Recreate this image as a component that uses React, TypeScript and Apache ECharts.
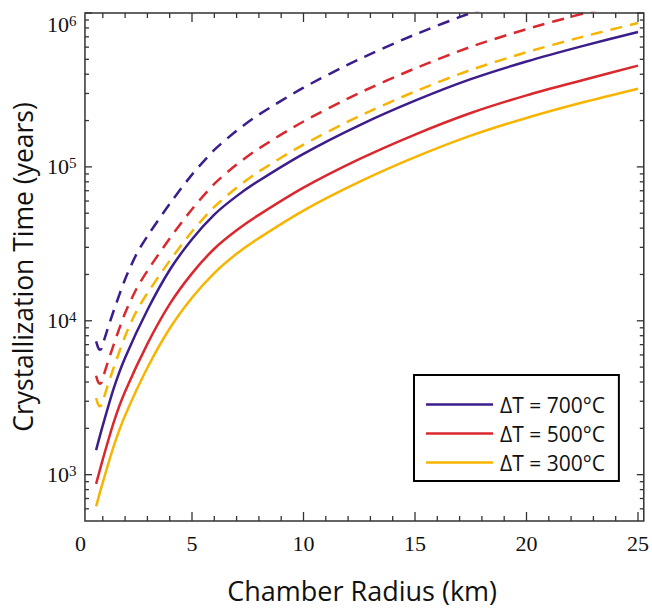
import React, { useEffect, useRef } from 'react';
import * as echarts from 'echarts';

// Chamber radius (km) vs crystallization time (years)
const dT700Solid: [number, number][] = [
  [0.7, 1445], [1.0, 2089], [1.5, 3673], [2.0, 5754], [3.0, 11750], [4.0, 21380],
  [5.0, 33880], [6.0, 48980], [7.0, 64570], [8.0, 81280], [10, 121600], [12.5, 186200],
  [15, 269200], [17.5, 371500], [20, 484200], [22.5, 609500], [25, 753400],
];
const dT500Solid: [number, number][] = [
  [0.7, 871], [1.0, 1259], [1.5, 2213], [2.0, 3467], [3.0, 7080], [4.0, 12820],
  [5.0, 20320], [6.0, 29380], [7.0, 38730], [8.0, 48750], [10, 73280], [12.5, 112200],
  [15, 162200], [17.5, 223900], [20, 291700], [22.5, 365600], [25, 455000],
];
const dT300Solid: [number, number][] = [
  [0.7, 622], [1.0, 891], [1.5, 1549], [2.0, 2427], [3.0, 4955], [4.0, 8913],
  [5.0, 14130], [6.0, 20420], [7.0, 27230], [8.0, 34430], [10, 52000], [12.5, 79800],
  [15, 115600], [17.5, 159600], [20, 208000], [22.5, 261800], [25, 322100],
];
const dT700Dashed: [number, number][] = [
  [0.7, 7345], [0.78, 6761], [0.85, 6486], [0.95, 6607], [1.05, 7413], [1.2, 8710],
  [1.5, 11750], [2.0, 18620], [2.5, 26920], [3.0, 35480], [4.0, 57540], [5.0, 89130],
  [6.0, 128800], [7.0, 171800], [8.0, 218800], [10, 327300], [12.5, 501200],
  [15, 724400], [17.5, 1000000], [20, 1303000], [22.5, 1641000], [25, 2028000],
];
const dT500Dashed: [number, number][] = [
  [0.7, 4395], [0.78, 4027], [0.85, 3899], [0.95, 3981], [1.05, 4467], [1.2, 5248],
  [1.5, 7080], [2.0, 11220], [2.5, 16030], [3.0, 21130], [4.0, 34280], [5.0, 53090],
  [6.0, 77620], [7.0, 103500], [8.0, 131800], [10, 197200], [12.5, 302000],
  [15, 436500], [17.5, 602600], [20, 785200], [22.5, 988600], [25, 1222000],
];
const dT300Dashed: [number, number][] = [
  [0.7, 3148], [0.78, 2884], [0.85, 2780], [0.95, 2851], [1.05, 3162], [1.2, 3715],
  [1.5, 5012], [2.0, 7943], [2.5, 11480], [3.0, 15140], [4.0, 24550], [5.0, 38020],
  [6.0, 54950], [7.0, 73280], [8.0, 93330], [10, 139600], [12.5, 213800],
  [15, 309000], [17.5, 426600], [20, 555900], [22.5, 699800], [25, 861000],
];

const legendNames = ['ΔT = 700°C', 'ΔT = 500°C', 'ΔT = 300°C'];
const colors = ['#3b1d8c', '#d9282e', '#f7b400'];

const xMin = 0;
const xMax = 25.26;
const xFrameLeft = 0.2;
const yMin = 500;
const yMax = 1000000;
const xMajor = [5, 10, 15, 20, 25];
const xMinor = [1, 2, 3, 4, 6, 7, 8, 9, 11, 12, 13, 14, 16, 17, 18, 19, 21, 22, 23, 24];
const yMajor = [1000, 10000, 100000, 1000000];
const yMinorMult = [2, 3, 4, 5, 6, 7, 8, 9];
const yDecades = [100, 1000, 10000, 100000];

const SANS = 'Open Sans';
const SERIF = 'Liberation Serif';

export default function App() {
  const ref = useRef<HTMLDivElement>(null);
  useEffect(() => {
    if (!ref.current) return;
    const chart = echarts.init(ref.current, undefined, { renderer: 'svg' });

    const tickData: number[][] = [];
    xMajor.forEach((v) => { tickData.push([v, yMin, 0, -9]); tickData.push([v, yMax, 0, 9]); });
    xMinor.forEach((v) => { tickData.push([v, yMin, 0, -5]); tickData.push([v, yMax, 0, 5]); });
    yMajor.forEach((v) => { tickData.push([xFrameLeft, v, 7, 0]); tickData.push([xMax, v, -7, 0]); });
    yDecades.forEach((d) => yMinorMult.forEach((m) => {
      const v = d * m;
      if (v > yMin && v < yMax) { tickData.push([xFrameLeft, v, 4, 0]); tickData.push([xMax, v, -4, 0]); }
    }));

    const lineSeries = (name: string, data: [number, number][], color: string, dashed: boolean) => ({
      type: 'line', name, data, showSymbol: false, symbol: 'none', smooth: 0.25,
      clip: true,
      lineStyle: { color, width: 2.5, type: dashed ? [12, 8] : 'solid' },
      itemStyle: { color },
      z: 3,
    });

    chart.setOption({
      animation: false,
      grid: { left: 80.5, right: 7, top: 13, bottom: 89, containLabel: false },
      xAxis: {
        type: 'value', min: xMin, max: xMax, interval: 5,
        axisLine: { show: false }, axisTick: { show: false }, splitLine: { show: false },
        axisLabel: {
          margin: 11, color: '#111', fontFamily: SERIF, fontSize: 22,
          formatter: (v: number) => (Math.abs(v % 5) < 1e-9 ? String(v) : ''),
        },
        name: 'Chamber Radius (km)', nameLocation: 'middle', nameGap: 56,
        nameTextStyle: { fontFamily: SANS, fontSize: 27, color: '#111' },
      },
      yAxis: {
        type: 'log', logBase: 10, min: yMin, max: yMax,
        axisLine: { show: false }, axisTick: { show: false }, splitLine: { show: false },
        axisLabel: {
          margin: 4, color: '#111', fontFamily: SERIF,
          verticalAlignMaxLabel: 'top',
          formatter: (v: number) => {
            const e = Math.log10(v);
            if (Math.abs(e - Math.round(e)) > 1e-6) return '';
            return `{b|10}{s|${Math.round(e)}}`;
          },
          rich: {
            b: { fontFamily: SERIF, fontSize: 22, color: '#111', lineHeight: 22, verticalAlign: 'bottom' },
            s: { fontFamily: SERIF, fontSize: 15, color: '#111', lineHeight: 15, verticalAlign: 'top' },
          },
        },
        name: 'Crystallization Time (years)', nameLocation: 'middle', nameGap: 34,
        nameTextStyle: { fontFamily: SANS, fontSize: 26.5, color: '#111' },
      },
      legend: {
        data: legendNames, orient: 'vertical', left: 414, top: 375,
        backgroundColor: '#fff', borderColor: '#000', borderWidth: 2,
        padding: [19, 14, 8, 12], itemWidth: 67, itemHeight: 2.5, itemGap: 8,
        icon: 'rect',
        textStyle: { fontFamily: SANS, fontSize: 21, color: '#111', lineHeight: 20, padding: [0, 0, 0, 2] },
      },
      series: [
        lineSeries(legendNames[0], dT700Solid, colors[0], false),
        lineSeries(legendNames[1], dT500Solid, colors[1], false),
        lineSeries(legendNames[2], dT300Solid, colors[2], false),
        lineSeries('700 dashed', dT700Dashed, colors[0], true),
        lineSeries('500 dashed', dT500Dashed, colors[1], true),
        lineSeries('300 dashed', dT300Dashed, colors[2], true),
        {
          type: 'custom', name: 'frame', silent: true, z: 5, clip: false,
          data: [[xFrameLeft, yMin, xMax, yMax]],
          renderItem: (_p: any, api: any) => {
            const a = api.coord([api.value(0), api.value(1)]);
            const b = api.coord([api.value(2), api.value(3)]);
            return {
              type: 'rect',
              shape: { x: a[0], y: b[1], width: b[0] - a[0], height: a[1] - b[1] },
              style: { fill: 'none', stroke: '#333', lineWidth: 1.5 },
            };
          },
        },
        {
          type: 'custom', name: 'ticks', silent: true, z: 5, clip: false,
          data: tickData,
          renderItem: (_p: any, api: any) => {
            const p = api.coord([api.value(0), api.value(1)]);
            return {
              type: 'line',
              shape: { x1: p[0], y1: p[1], x2: p[0] + api.value(2), y2: p[1] + api.value(3) },
              style: { stroke: '#333', lineWidth: 1.3 },
            };
          },
        },
      ],
    });
    return () => chart.dispose();
  }, []);
  return <div ref={ref} style={{ width: 652, height: 610, position: 'absolute', left: 0, top: 0 }} />;
}
